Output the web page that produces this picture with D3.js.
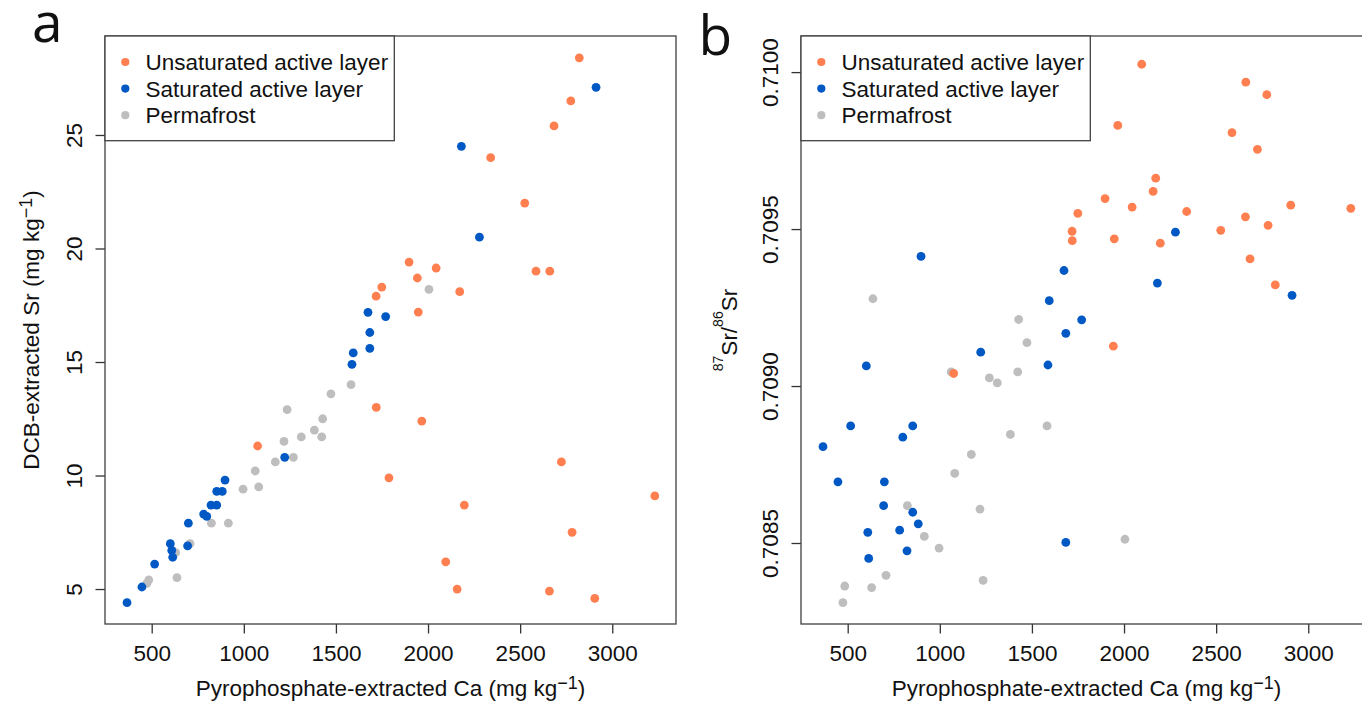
<!DOCTYPE html>
<html>
<head>
<meta charset="utf-8">
<script src="https://cdn.jsdelivr.net/npm/d3@7"></script>
<style>
body { margin: 0; background: #fff; }
text { font-family: "Liberation Sans", Arial, sans-serif; fill: #111; }
</style>
</head>
<body>
<script>
// ### Data ###
// Unsaturated active layer
var unsatCa    = [2821, 2775, 2684, 2340, 2525, 1897, 2044, 1942, 1749, 1718, 2172, 2586, 2661,
                  1947, 1075, 1719, 1966, 1788, 2096, 2724, 3231, 2197, 2782, 2158, 2659, 2905];
var unsatSr    = [28.4, 26.5, 25.4, 24.0, 22.0, 19.4, 19.14, 18.7, 18.3, 17.9, 18.1, 19.0, 19.0,
                  17.2, 11.3, 13.0, 12.4, 9.9, 6.2, 10.6, 9.1, 8.7, 7.5, 5.0, 4.91, 4.59];
var unsatRatio = [0.709322, 0.709928, 0.709405, 0.709556, 0.709496, 0.709597, 0.709570, 0.709127,
                  0.709550, 0.709493, 0.709662, 0.709807, 0.709968, 0.709469, 0.709040, 0.709463,
                  0.709830, null, 0.710025, 0.709754, 0.709566, 0.709455, 0.709512, 0.709620,
                  0.709539, 0.709576];
// Saturated active layer
var satCa    = [2912, 2181, 2279, 1674, 1770, 1684, 1684, 1594, 1587, 1222, 898, 853, 883,
                822, 853, 782, 799, 699, 601, 695, 609, 614, 516, 447, 366];
var satSr    = [27.1, 24.5, 20.5, 17.19, 17.0, 16.3, 15.6, 15.4, 14.9, 10.8, 9.8, 9.3, 9.3,
                8.7, 8.7, 8.3, 8.2, 7.9, 7.0, 6.9, 6.7, 6.4, 6.1, 5.09, 4.4];
var satRatio = [0.709289, 0.709328, 0.709490, 0.709368, 0.709211, 0.709168, 0.708502, 0.709272,
                0.709067, 0.709108, 0.709413, 0.708873, 0.708561, 0.708475, 0.708598, 0.708541,
                0.708837, 0.708695, 0.709064, 0.708619, 0.708534, 0.708451, 0.708873, 0.708695,
                0.708807];
// Permafrost
var permCa    = [2005, 1582, 1473, 1235, 1428, 1383, 1312, 1423, 1218, 1269, 1171, 1062, 1081,
                 996, 824, 916, 708, 630, 637, 484, 474];
var permSr    = [18.2, 14.0, 13.6, 12.9, 12.5, 12.0, 11.7, 11.7, 11.5, 10.8, 10.6, 10.2, 9.5,
                 9.4, 7.9, 7.9, 7.0, 6.6, 5.5, 5.4, 5.25];
var permRatio = [0.708512, 0.708873, 0.709138, 0.708381, 0.709212, 0.708846, 0.709010, 0.709045,
                 0.708608, 0.709026, 0.708782, 0.709045, 0.708722, 0.708484, 0.708619, 0.708521,
                 0.708397, 0.708358, 0.709278, 0.708363, 0.708310];

var groupNames = ["Unsaturated active layer", "Saturated active layer", "Permafrost"];
var caTicks    = [500, 1000, 1500, 2000, 2500, 3000];
var srTicks    = [5, 10, 15, 20, 25];
var ratioTicks = [0.7085, 0.7090, 0.7095, 0.7100];
// axis limits (R style, 4% padding)
var caLim    = [246.5, 3346];
var srLim    = [3.46, 29.36];
var ratioLim = [0.708242, 0.710115];

var colors = ["#FF7F50", "#0058C4", "#BEBEBE"];

var svg = d3.select("body").append("svg")
    .attr("width", 1362)
    .attr("height", 705);

/*#########################################################################
* ### one scatter panel ###################################################
* #########################################################################*/
function scatterPanel(){
    var left = 105, top = 36, width = 571, height = 588;
    var xDomain, yDomain, yTicks, yFormat = d3.format("d");
    var series, yTitle, letter, letterX, letterY;
    var fontSize = 22.5;

    var object = {};

    object.render = function(){
        var g = svg.append("g").attr("transform", "translate(" + left + "," + top + ")");

        var x = d3.scaleLinear().domain(xDomain).range([0, width]);
        var y = d3.scaleLinear().domain(yDomain).range([height, 0]);

        // points: permafrost first, unsaturated on top
        series.slice().reverse().forEach(function(s){
            var pts = s.x.map(function(d, i){ return [d, s.y[i]]; })
                .filter(function(p){ return p[1] != null; });
            g.append("g").selectAll("circle")
                .data(pts)
              .enter().append("circle")
                .attr("cx", function(d){ return x(d[0]); })
                .attr("cy", function(d){ return y(d[1]); })
                .attr("r", 4.4)
                .attr("fill", s.color);
        });

        // x axis
        var gx = g.append("g")
            .attr("transform", "translate(0," + height + ")")
            .call(d3.axisBottom(x).tickValues(caTicks).tickSize(9.5).tickFormat(d3.format("d")));
        gx.select(".domain").remove();
        gx.selectAll("line").attr("stroke", "#333").attr("stroke-width", 1.3);
        gx.selectAll("text")
            .attr("y", 37).attr("dy", 0)
            .attr("fill", "#111")
            .style("font-size", fontSize + "px")
            .style("font-family", '"Liberation Sans", Arial, sans-serif');

        // y axis
        var gy = g.append("g")
            .call(d3.axisLeft(y).tickValues(yTicks).tickSize(9.5).tickFormat(yFormat));
        gy.select(".domain").remove();
        gy.selectAll("line").attr("stroke", "#333").attr("stroke-width", 1.3);
        gy.selectAll("text")
            .attr("transform", "rotate(-90)")
            .attr("x", 0).attr("y", -23.3).attr("dy", 0)
            .attr("text-anchor", "middle")
            .attr("fill", "#111")
            .style("font-size", fontSize + "px")
            .style("font-family", '"Liberation Sans", Arial, sans-serif');

        // frame
        g.append("rect")
            .attr("width", width).attr("height", height)
            .attr("fill", "none").attr("stroke", "#404040").attr("stroke-width", 1.3);

        // x title
        var xt = g.append("text")
            .attr("x", width / 2).attr("y", height + 71.5)
            .attr("text-anchor", "middle")
            .style("font-size", fontSize + "px");
        xt.append("tspan").text("Pyrophosphate-extracted Ca (mg kg");
        xt.append("tspan").attr("dy", -6.5).style("font-size", "18px").text("\u22121");
        xt.append("tspan").attr("dy", 6.5).text(")");

        // y title
        var yt = g.append("text")
            .attr("transform", "translate(" + yTitle.offset + "," + height / 2 + ") rotate(-90)")
            .attr("text-anchor", "middle")
            .style("font-size", fontSize + "px");
        yTitle.parts.forEach(function(p){
            yt.append("tspan")
                .attr("dy", p.dy)
                .style("font-size", p.size ? p.size + "px" : null)
                .text(p.text);
        });

        // legend
        var lg = g.append("g");
        lg.append("rect")
            .attr("width", 289.3).attr("height", 104.7)
            .attr("fill", "#fff").attr("stroke", "#404040").attr("stroke-width", 1.3);
        series.forEach(function(s, i){
            var ly = 26 + i * 26.6;
            lg.append("circle").attr("cx", 20.3).attr("cy", ly).attr("r", 4.1).attr("fill", s.color);
            lg.append("text").attr("x", 40.5).attr("y", ly + 8.2)
                .style("font-size", fontSize + "px").text(s.name);
        });

        // panel letter
        svg.append("text")
            .attr("x", letterX).attr("y", letterY)
            .style("font-family", '"Open Sans", "Noto Sans", sans-serif')
            .style("font-size", "55px")
            .text(letter);

        return object;
    };

    //Getter and setter methods
    object.left = function(value){
        if (!arguments.length) return left;
        left = value;
        return object;
    };
    object.xDomain = function(value){
        if (!arguments.length) return xDomain;
        xDomain = value;
        return object;
    };
    object.yDomain = function(value){
        if (!arguments.length) return yDomain;
        yDomain = value;
        return object;
    };
    object.yTicks = function(value){
        if (!arguments.length) return yTicks;
        yTicks = value;
        return object;
    };
    object.yFormat = function(value){
        if (!arguments.length) return yFormat;
        yFormat = value;
        return object;
    };
    object.series = function(value){
        if (!arguments.length) return series;
        series = value;
        return object;
    };
    object.yTitle = function(value){
        if (!arguments.length) return yTitle;
        yTitle = value;
        return object;
    };
    object.letter = function(value, lx, ly){
        if (!arguments.length) return letter;
        letter = value; letterX = lx; letterY = ly;
        return object;
    };

    return object;
}

var caGroups = [unsatCa, satCa, permCa];

// ### panel a ###
scatterPanel()
    .left(105)
    .xDomain(caLim)
    .yDomain(srLim)
    .yTicks(srTicks)
    .series([unsatSr, satSr, permSr].map(function(v, i){
        return {name: groupNames[i], color: colors[i], x: caGroups[i], y: v};
    }))
    .yTitle({offset: -66.5, parts: [
        {text: "DCB-extracted Sr (mg kg", dy: 0},
        {text: "\u22121", dy: -6.5, size: 18},
        {text: ")", dy: 6.5}
    ]})
    .letter("a", 32, 41.7)
    .render();

// ### panel b ###
scatterPanel()
    .left(801)
    .xDomain(caLim)
    .yDomain(ratioLim)
    .yTicks(ratioTicks)
    .yFormat(d3.format(".4f"))
    .series([unsatRatio, satRatio, permRatio].map(function(v, i){
        return {name: groupNames[i], color: colors[i], x: caGroups[i], y: v};
    }))
    .yTitle({offset: -64.3, parts: [
        {text: "87", dy: -14, size: 14},
        {text: "Sr/", dy: 14},
        {text: "86", dy: -14, size: 14},
        {text: "Sr", dy: 14}
    ]})
    .letter("b", 698.5, 55)
    .render();
</script>
</body>
</html>
